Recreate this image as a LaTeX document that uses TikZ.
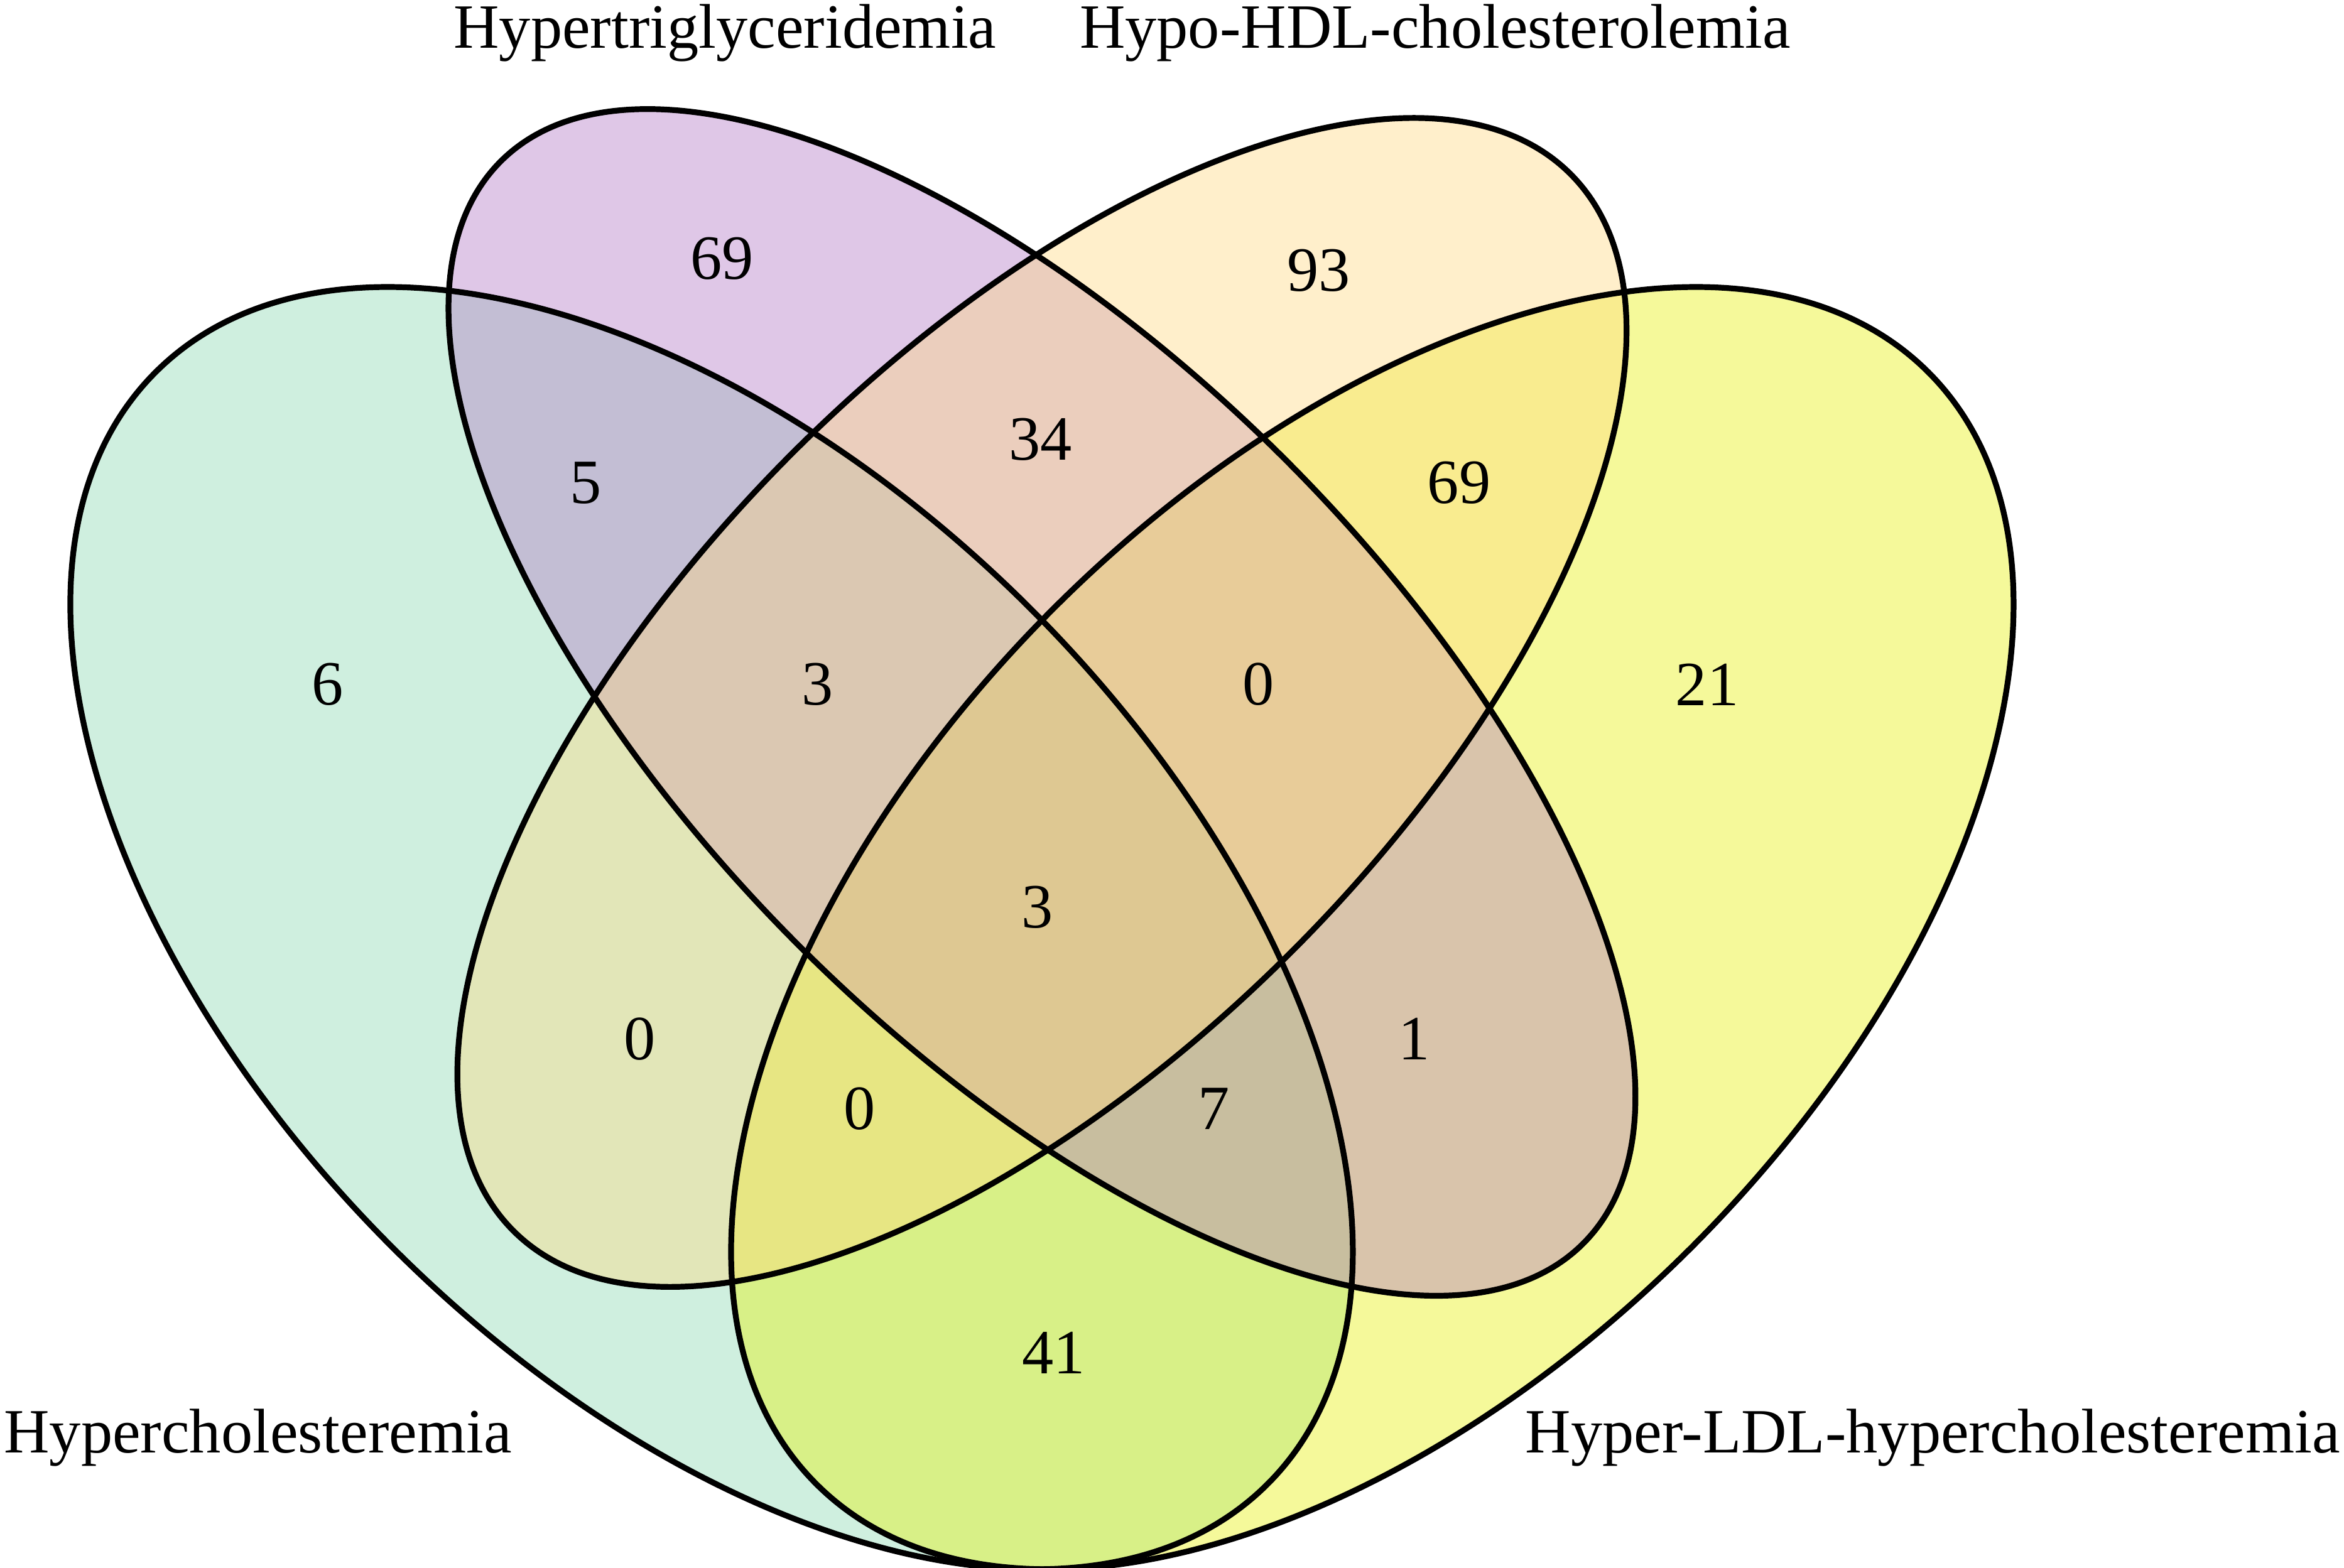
\documentclass[tikz,border=0pt]{standalone}
\usepackage{fontspec}
\setmainfont{Liberation Serif}
\definecolor{cgreen}{RGB}{137,217,177}
\definecolor{cpurple}{RGB}{177,117,197}
\definecolor{corange}{RGB}{255,217,127}
\definecolor{cyellow}{RGB}{230,242,3}
\tikzset{setfill/.style={fill opacity=0.4},
 setline/.style={line width=1.1pt},
 lbl/.style={font=\fontsize{12}{14}\selectfont, inner sep=0pt},
 num/.style={font=\fontsize{12}{14}\selectfont, inner sep=0pt}}
\begin{document}
\begin{tikzpicture}
\useasboundingbox (0,0) rectangle (15.68,10.49);
\fill[white] (0,0) rectangle (15.68,10.49);
\fill[setfill, fill=cgreen, rotate around={-45:(4.76,4.28)}] (4.76,4.28) ellipse [x radius=5.26cm, y radius=3.02cm];
\fill[setfill, fill=cyellow, rotate around={45:(9.18,4.28)}] (9.18,4.28) ellipse [x radius=5.26cm, y radius=3.02cm];
\fill[setfill, fill=cpurple, rotate around={-45:(6.97,5.79)}] (6.97,5.79) ellipse [x radius=5.12cm, y radius=2.30cm];
\fill[setfill, fill=corange, rotate around={45:(6.97,5.79)}] (6.97,5.79) ellipse [x radius=5.00cm, y radius=2.36cm];
\draw[setline, rotate around={-45:(4.76,4.28)}] (4.76,4.28) ellipse [x radius=5.26cm, y radius=3.02cm];
\draw[setline, rotate around={45:(9.18,4.28)}] (9.18,4.28) ellipse [x radius=5.26cm, y radius=3.02cm];
\draw[setline, rotate around={-45:(6.97,5.79)}] (6.97,5.79) ellipse [x radius=5.12cm, y radius=2.30cm];
\draw[setline, rotate around={45:(6.97,5.79)}] (6.97,5.79) ellipse [x radius=5.00cm, y radius=2.36cm];
\node[lbl] (tA) at (4.85,10.27) {Hypertriglyceridemia};
\node[lbl] (tB) at (9.60,10.27) {Hypo-HDL-cholesterolemia};
\node[lbl, anchor=west] (tC) at (0.02,0.87) {Hypercholesteremia};
\node[lbl, anchor=east] (tD) at (15.66,0.87) {Hyper-LDL-hypercholesteremia};
\node[num] (n1) at (4.83,8.76) {69};
\node[num] (n2) at (8.82,8.68) {93};
\node[num] (n3) at (3.92,7.26) {5};
\node[num] (n4) at (6.96,7.55) {34};
\node[num] (n5) at (9.76,7.26) {69};
\node[num] (n6) at (2.19,5.91) {6};
\node[num] (n7) at (5.47,5.91) {3};
\node[num] (n8) at (8.42,5.91) {0};
\node[num] (n9) at (11.42,5.91) {21};
\node[num] (n10) at (6.94,4.42) {3};
\node[num] (n11) at (4.28,3.54) {0};
\node[num] (n12) at (9.46,3.54) {1};
\node[num] (n13) at (5.75,3.07) {0};
\node[num] (n14) at (8.12,3.07) {7};
\node[num] (n15) at (7.05,1.44) {41};
\end{tikzpicture}
\end{document}
